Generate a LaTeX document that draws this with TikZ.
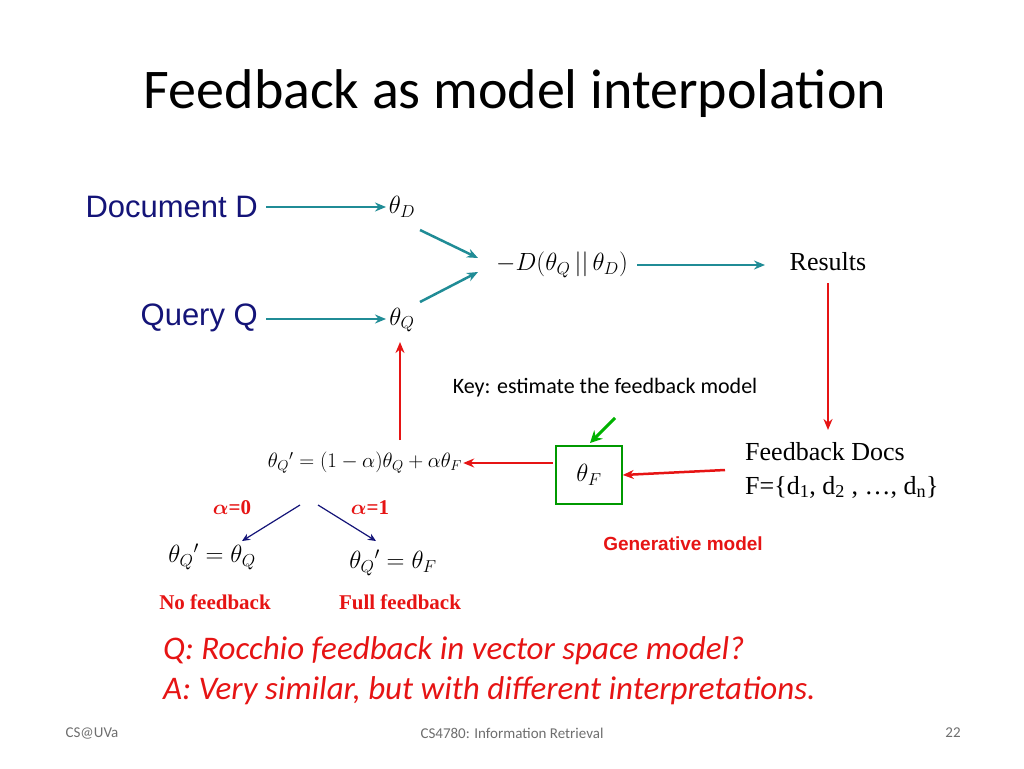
\documentclass[tikz,border=0pt]{standalone}
\usepackage{amsmath,bm}
\usepackage{fontspec}
\setmainfont{Carlito}
\newfontfamily\arialf{Liberation Sans}
\newfontfamily\timesf{Liberation Serif}
\usetikzlibrary{arrows.meta}
\definecolor{tealc}{RGB}{32,140,150}
\definecolor{navyc}{RGB}{20,20,120}
\definecolor{redc}{RGB}{230,20,20}
\definecolor{grayc}{RGB}{110,110,110}
\begin{document}
\begin{tikzpicture}[x=1pt,y=-1pt,
  tarr/.style={draw=tealc,line width=2.5pt,-{Stealth[length=11pt,width=9pt]}},
  rarr/.style={draw=redc,line width=2.5pt,-{Stealth[length=11pt,width=9pt]}},
  narr/.style={draw=navyc,line width=1.2pt,-{Stealth[length=8pt,width=7pt]}},
  m/.style={inner sep=1pt,font=\fontsize{25}{28}\selectfont},
  lab/.style={inner sep=0pt,font=\arialf\fontsize{31}{34}\selectfont,text=navyc},
  foot/.style={font=\fontsize{15}{17}\selectfont,text=grayc}]
\useasboundingbox (0,0) rectangle (1024,768);
\node[font=\fontsize{56}{60}\selectfont] (title) at (515,94) {Feedback as model interpolation};
\node[lab,anchor=east] (doc) at (258,207) {Document D};
\node[lab,anchor=east] (qry) at (258,318) {Query Q};
\node[m] (td) at (402,207) {$\theta_D$};
\node[m] (tq) at (402,320) {$\theta_Q$};
\coordinate (ds) at (266,207);
\coordinate (qs) at (266,319);
\draw[tarr] (ds) -- (386,207);
\draw[tarr] (qs) -- (386,319);
\node[m] (kl) at (562,265) {$-D(\theta_Q\,||\,\theta_D)$};
\draw[tarr] (420,230) -- (478,258);
\draw[tarr] (420,302) -- (478,272);
\node[m,font=\timesf\fontsize{26}{28}\selectfont] (res) at (828,262) {Results};
\draw[tarr] (kl.east)++(8,0) -- (765,265);
\coordinate (rb) at (828,430);
\draw[rarr] (828,283) -- (rb);
\node[font=\fontsize{22}{26}\selectfont] (key) at (605,388) {Key: estimate the feedback model};
\node[draw=green!60!black,line width=1.5pt,minimum width=66pt,minimum height=58pt,m] (tf) at (589,475) {$\theta_F$};
\draw[draw=green!70!black,line width=3pt,-{Stealth[length=12pt,width=12pt]}] (615,418) -- (590,443);
\node[anchor=west,inner sep=0pt,font=\timesf\fontsize{26}{28}\selectfont] (fd) at (745,452) {Feedback Docs};
\node[anchor=west,inner sep=0pt,font=\timesf\fontsize{26}{28}\selectfont] (fset) at (745,487) {F=\{d\textsubscript{1}, d\textsubscript{2} , \dots, d\textsubscript{n}\}};
\draw[rarr] (725,470) -- (tf.east);
\node[m,font=\fontsize{21}{24}\selectfont] (interp) at (365,463) {$\theta_Q{}'=(1-\alpha)\theta_Q+\alpha\theta_F$};
\draw[rarr] (553,463) -- (interp.east);
\draw[rarr] (400,440) -- (400,342);
\node[text=redc,font=\timesf\bfseries\fontsize{21}{24}\selectfont] (a0) at (232,508) {$\bm\alpha$=0};
\node[text=redc,font=\timesf\bfseries\fontsize{21}{24}\selectfont] (a1) at (370,508) {$\bm\alpha$=1};
\node[m] (nf) at (212,557) {$\theta_Q{}'=\theta_Q$};
\node[m] (ff) at (393,563) {$\theta_Q{}'=\theta_F$};
\draw[narr] (300,505) -- (242,541);
\draw[narr] (318,505) -- (376,541);
\node[text=redc,font=\timesf\bfseries\fontsize{21}{24}\selectfont] (nfl) at (215,602) {No feedback};
\node[text=redc,font=\timesf\bfseries\fontsize{21}{24}\selectfont] (ffl) at (400,602) {Full feedback};
\node[text=redc,font=\arialf\bfseries\fontsize{19}{22}\selectfont] (gen) at (683,544) {Generative model};
\node[anchor=west,inner sep=0pt,text=redc,font=\itshape\fontsize{33}{36}\selectfont] (q) at (163,651) {Q: Rocchio feedback in vector space model?};
\node[anchor=west,inner sep=0pt,text=redc,font=\itshape\fontsize{33}{36}\selectfont] (a) at (163,691) {A: Very similar, but with different interpretations.};
\node[foot] (f1) at (92,733) {CS@UVa};
\node[foot] (f2) at (512,733) {CS4780: Information Retrieval};
\node[foot] (f3) at (953,733) {22};
\end{tikzpicture}
\end{document}
